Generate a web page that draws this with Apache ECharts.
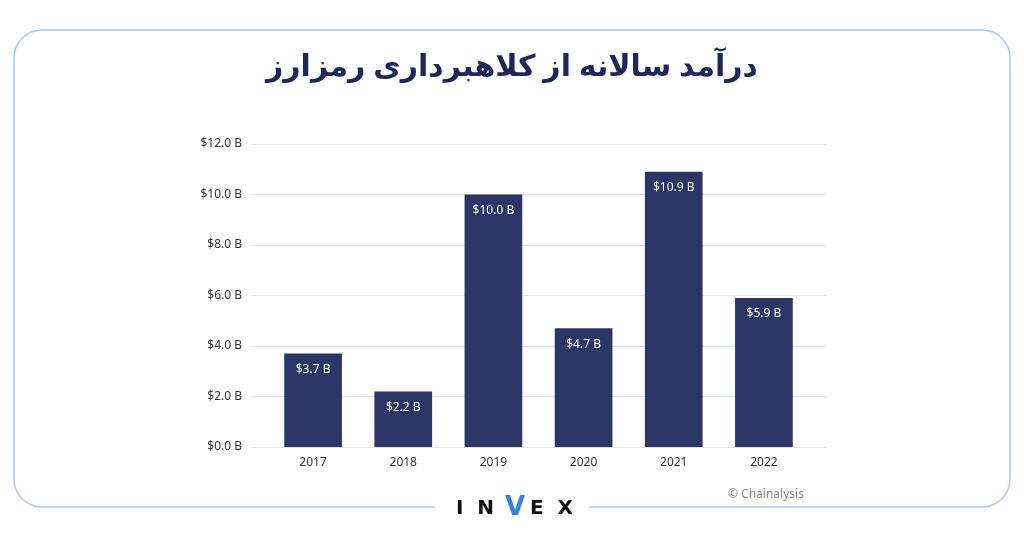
<!DOCTYPE html>
<html><head><meta charset="utf-8">
<script src="https://cdn.jsdelivr.net/npm/echarts@6/dist/echarts.min.js"></script>
<style>html,body{margin:0;background:#fff}#c{width:1024px;height:538px}</style>
</head><body><div id="c"></div>
<script>
const title = 'درآمد سالانه از کلاهبرداری رمزارز';
const categories = ['2017','2018','2019','2020','2021','2022'];
const values = [3.7, 2.2, 10.0, 4.7, 10.9, 5.9];
const yMin = 0, yMax = 12, yStep = 2;
const chart = echarts.init(document.getElementById('c'));
chart.setOption({
  backgroundColor:'#fff',
  title:{text:title,left:'center',top:47,textStyle:{fontFamily:'Noto Sans, DejaVu Sans',fontSize:30,fontWeight:'bold',color:'#1e2757'}},
  grid:[{left:252,right:198,top:144,bottom:91},{left:268,right:215,top:144,bottom:91}],
  xAxis:[
    {gridIndex:0,type:'value',show:false,min:0,max:1},
    {gridIndex:1,type:'category',data:categories,axisTick:{show:false},axisLine:{show:false},
    axisLabel:{color:'#333',fontSize:12,fontFamily:'Noto Sans',margin:10}}],
  yAxis:[
    {gridIndex:0,type:'value',min:yMin,max:yMax,interval:yStep,axisLine:{show:false},axisTick:{show:false},
     axisLabel:{color:'#333',fontSize:12,fontFamily:'Noto Sans',margin:10,formatter:v=>'$'+v.toFixed(1)+' B'},
     splitLine:{lineStyle:{color:'#e3e3e3'}}},
    {gridIndex:1,type:'value',min:yMin,max:yMax,interval:yStep,show:false,splitLine:{show:false}}],
  series:[{type:'bar',xAxisIndex:1,yAxisIndex:1,data:values,barWidth:'64%',itemStyle:{color:'#2b3566'},z:5,
    label:{show:true,position:'insideTop',distance:10,color:'#fff',fontSize:12,fontFamily:'Noto Sans',formatter:p=>'$'+p.value.toFixed(1)+' B'}}],
  graphic:[
    {type:'rect',shape:{x:14,y:30,width:996,height:477,r:28},style:{fill:'none',stroke:'#a9c9ee',lineWidth:1.5},z:-1},
    {type:'rect',shape:{x:435,y:495,width:154,height:30},style:{fill:'#fff'}},
    {type:'text',left:456,top:499,style:{text:'I  N',font:'bold 20px DejaVu Sans',fill:'#111'}},
    {type:'text',left:505,top:495,style:{text:'V',font:'bold 26px DejaVu Sans',fill:'#2f86e6'}},
    {type:'text',left:530,top:499,style:{text:'E  X',font:'bold 20px DejaVu Sans',fill:'#111'}},
    {type:'text',left:728,top:489,style:{text:'© Chainalysis',font:'12px Noto Sans',fill:'#888'}}
  ]
});
</script></body></html>
